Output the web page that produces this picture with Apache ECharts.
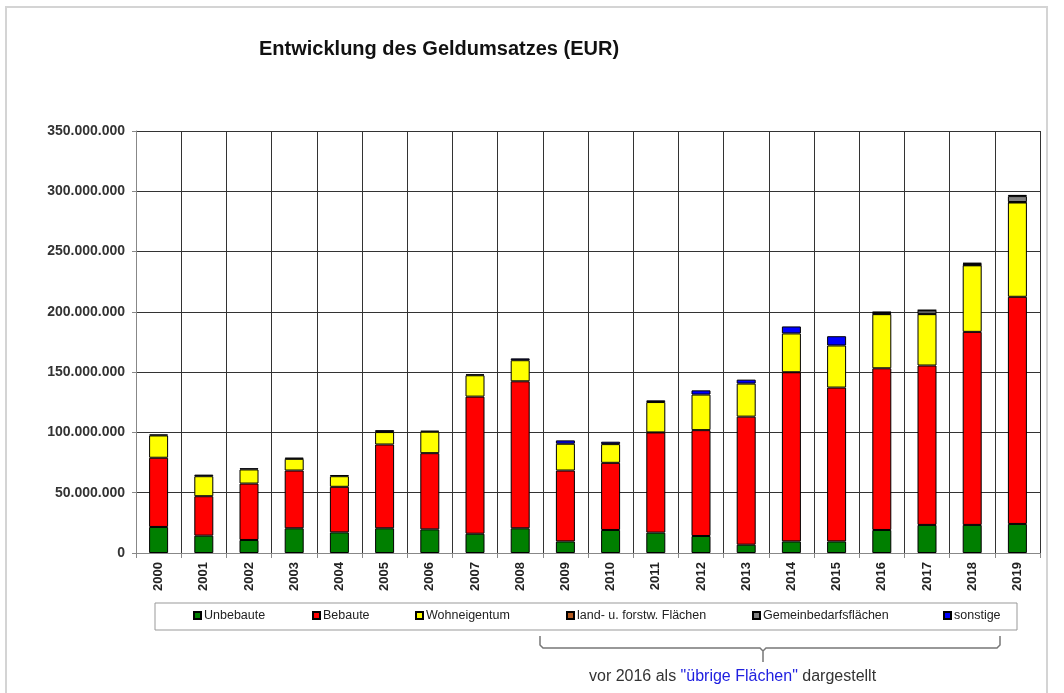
<!DOCTYPE html>
<html>
<head>
<meta charset="utf-8">
<title>Entwicklung des Geldumsatzes</title>
<script src="https://cdn.jsdelivr.net/npm/echarts@6/dist/echarts.min.js"></script>
<style>
  html, body { margin: 0; padding: 0; background: #fff; }
  #container { width: 1064px; height: 693px; }
</style>
</head>
<body>
<div id="container"></div>
<script>
// Jahre
var years = ['2000', '2001', '2002', '2003', '2004', '2005', '2006', '2007', '2008', '2009',
    '2010', '2011', '2012', '2013', '2014', '2015', '2016', '2017', '2018', '2019'];

// Werte in Mio. EUR
var unbebaute = [21.6, 14.4, 10.8, 20.5, 17.1, 20.5, 19.6, 16.0, 20.5, 9.6,
    19.1, 16.9, 14.1, 6.9, 9.6, 9.6, 19.1, 23.3, 23.3, 24.1];
var bebaute = [57.4, 32.7, 46.8, 47.9, 37.8, 69.5, 63.2, 113.7, 121.9, 58.8,
    55.7, 83.1, 87.8, 106.2, 140.3, 127.6, 134.1, 132.2, 160.1, 188.4];
var wohneigentum = [18.5, 16.6, 11.7, 9.7, 8.8, 10.3, 17.8, 17.7, 17.5, 22.2,
    15.5, 25.2, 29.5, 27.4, 32.2, 34.9, 44.9, 42.6, 55.2, 78.2];
var landForst = [null, null, null, null, null, null, null, null, null, null,
    null, null, null, null, null, null, 0.4, 0.3, 0.4, 0.4];
var gemeinbedarf = [null, null, null, null, null, null, null, null, null, null,
    null, null, null, null, null, null, 1.0, 2.8, 1.0, 4.9];
var sonstige = [0.8, 1.3, 1.0, 1.0, 1.0, 1.6, 0.8, 0.8, 1.5, 2.8,
    2.0, 1.4, 3.5, 3.3, 5.8, 7.7, 0.5, 0.3, 0.6, 1.0];

var seriesNames = ['Unbebaute', 'Bebaute', 'Wohneigentum', 'land- u. forstw. Flächen', 'Gemeinbedarfsflächen', 'sonstige'];
var seriesData = [unbebaute, bebaute, wohneigentum, landForst, gemeinbedarf, sonstige];
var seriesColors = ['#007f00', '#ff0000', '#ffff00', '#b35a1f', '#808080', '#0000ff'];

// Lage der Legendeneinträge
var legendLeft = [193, 312, 415, 566, 752, 943];

function formatNumber(v) {
    return String(v).replace(/\B(?=(\d{3})+(?!\d))/g, '.');
}

function toEur(arr) {
    return arr.map(function (v) {
        return v == null ? '-' : Math.round(v * 1000000);
    });
}

var font = '"Liberation Sans", Arial, sans-serif';

var dom = document.getElementById('container');
var myChart = echarts.init(dom, null, { renderer: 'canvas' });

var series = [];
for (var i = 0; i < seriesNames.length; i++) {
    series.push({
        name: seriesNames[i],
        type: 'bar',
        stack: 'umsatz',
        barWidth: 19,
        data: toEur(seriesData[i]),
        itemStyle: {
            color: seriesColors[i],
            borderColor: '#000',
            borderWidth: 1
        },
        emphasis: { disabled: true },
        animation: false
    });
}

var legends = [];
for (var k = 0; k < seriesNames.length; k++) {
    legends.push({
        data: [seriesNames[k]],
        left: legendLeft[k],
        top: 609,
        icon: 'rect',
        itemWidth: 7,
        itemHeight: 7,
        itemGap: 0,
        selectedMode: false,
        padding: 0,
        textStyle: {
            fontFamily: font,
            fontSize: 12.5,
            color: '#222',
            padding: [0, 0, 0, -2]
        }
    });
}

var option = {
    backgroundColor: '#fff',
    animation: false,
    title: {
        text: 'Entwicklung des Geldumsatzes (EUR)',
        left: 254,
        top: 34,
        textStyle: {
            fontFamily: font,
            fontWeight: 'bold',
            fontSize: 20,
            color: '#111'
        }
    },
    legend: legends,
    grid: {
        left: 136,
        right: 24,
        top: 131,
        bottom: 140
    },
    xAxis: {
        type: 'category',
        data: years,
        axisLine: { lineStyle: { color: '#888', width: 1 } },
        axisTick: { show: true, length: 5, lineStyle: { color: '#888' } },
        splitLine: { show: true, lineStyle: { color: '#333', width: 1 } },
        axisLabel: {
            rotate: 90,
            margin: 9,
            fontFamily: font,
            fontWeight: 'bold',
            fontSize: 13,
            color: '#222'
        }
    },
    yAxis: {
        type: 'value',
        min: 0,
        max: 350000000,
        interval: 50000000,
        axisLine: { show: true, lineStyle: { color: '#888' } },
        axisTick: { show: true, length: 4, lineStyle: { color: '#888' } },
        splitLine: { show: true, lineStyle: { color: '#333', width: 1 } },
        axisLabel: {
            margin: 11,
            fontFamily: font,
            fontWeight: 'bold',
            fontSize: 14,
            color: '#333',
            formatter: function (v) { return formatNumber(v); }
        }
    },
    series: series,
    graphic: [
        {
            // Rahmen
            type: 'rect',
            shape: { x: 6, y: 7, width: 1041, height: 700 },
            style: { fill: 'none', stroke: '#d4d4d4', lineWidth: 2 },
            silent: true,
            z: -10
        },
        {
            // Legendenkasten
            type: 'rect',
            shape: { x: 155, y: 603, width: 862, height: 27 },
            style: { fill: '#fff', stroke: '#999', lineWidth: 1 },
            silent: true,
            z: -1
        },
        {
            // Klammer
            type: 'polyline',
            shape: {
                points: [[540, 636], [540, 645], [543, 648], [760, 648], [763, 651], [763, 662],
                    [763, 651], [766, 648], [997, 648], [1000, 645], [1000, 636]]
            },
            style: { fill: 'none', stroke: '#777', lineWidth: 1.5 },
            silent: true
        },
        {
            type: 'text',
            left: 589,
            top: 669,
            style: {
                text: '{a|vor 2016 als }{b|"übrige Flächen"}{a| dargestellt}',
                rich: {
                    a: { fontFamily: font, fontSize: 16, fill: '#333' },
                    b: { fontFamily: font, fontSize: 16, fill: '#2020e0' }
                }
            },
            silent: true
        }
    ]
};

myChart.setOption(option);
</script>
</body>
</html>
